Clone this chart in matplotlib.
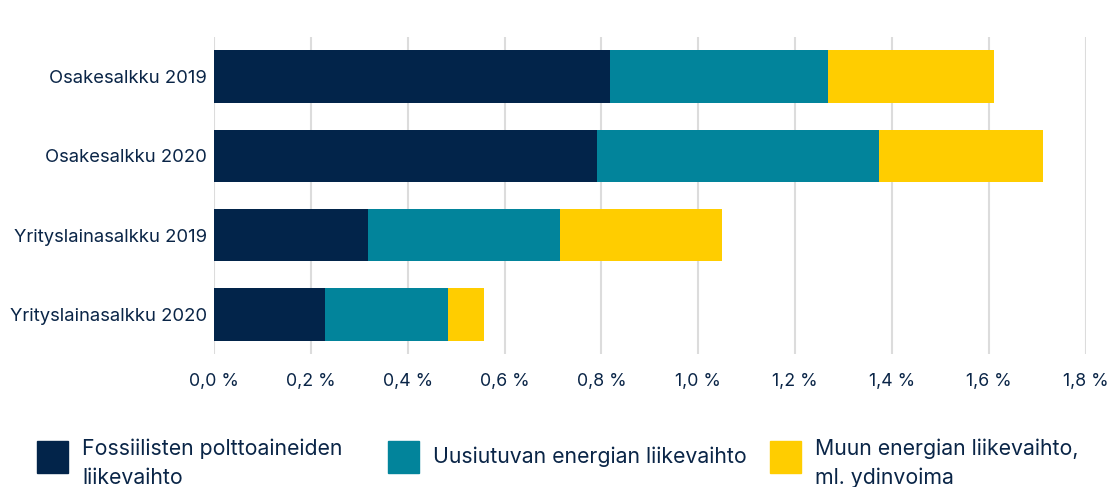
import matplotlib
matplotlib.use("Agg")
import matplotlib.pyplot as plt
from matplotlib.patches import Rectangle
from matplotlib.ticker import FuncFormatter

plt.rcParams['font.family'] = ['Inter', 'DejaVu Sans']

# Data (osuus liikevaihdosta, %)
salkut = ['Osakesalkku 2019', 'Osakesalkku 2020', 'Yrityslainasalkku 2019', 'Yrityslainasalkku 2020']
fossiili = [0.818, 0.790, 0.319, 0.229]
uusiutuva = [0.449, 0.583, 0.396, 0.255]
muu = [0.343, 0.338, 0.333, 0.073]
sarjat = ['Fossiilisten polttoaineiden\nliikevaihto', 'Uusiutuvan energian liikevaihto',
          'Muun energian liikevaihto,\nml. ydinvoima']
xticks = [0.0, 0.2, 0.4, 0.6, 0.8, 1.0, 1.2, 1.4, 1.6, 1.8]

varit = ['#02244a', '#02849b', '#ffcd00']
tekstivari = '#0a2547'

fig = plt.figure(figsize=(11.11, 4.87), dpi=100)
ax = fig.add_axes([0.1925, 0.273, 0.785, 0.651])

y = list(range(len(salkut)))
vasen = [0.0] * len(salkut)
for arvot, vari in zip([fossiili, uusiutuva, muu], varit):
    ax.barh(y, arvot, left=vasen, height=0.66, color=vari, zorder=3)
    vasen = [a + b for a, b in zip(vasen, arvot)]

ax.set_xlim(0, 1.8)
ax.set_ylim(3.5, -0.5)
ax.set_yticks(y)
ax.set_yticklabels(salkut)
ax.set_xticks(xticks)
ax.xaxis.set_major_formatter(FuncFormatter(lambda v, p: f'{v:.1f} %'.replace('.', ',')))
ax.tick_params(axis='both', length=0, colors=tekstivari)
ax.tick_params(axis='x', pad=14, labelsize=12.8)
ax.tick_params(axis='y', pad=5, labelsize=13.3)
ax.grid(axis='x', color='#dcdcdc', linewidth=1.5, zorder=0)
for s in ax.spines.values():
    s.set_visible(False)

# Selite
selite_x = [0.033, 0.349, 0.693]
for sx, nimi, vari in zip(selite_x, sarjat, varit):
    fig.add_artist(Rectangle((sx, 0.029), 0.028, 0.066, transform=fig.transFigure,
                             color=vari))
    if '\n' in nimi:
        fig.text(sx + 0.041, 0.1, nimi, fontsize=15.3, color=tekstivari, va='top',
                 linespacing=1.55)
    else:
        fig.text(sx + 0.041, 0.062, nimi, fontsize=15.3, color=tekstivari, va='center')

fig.savefig('out.png', dpi=100)
